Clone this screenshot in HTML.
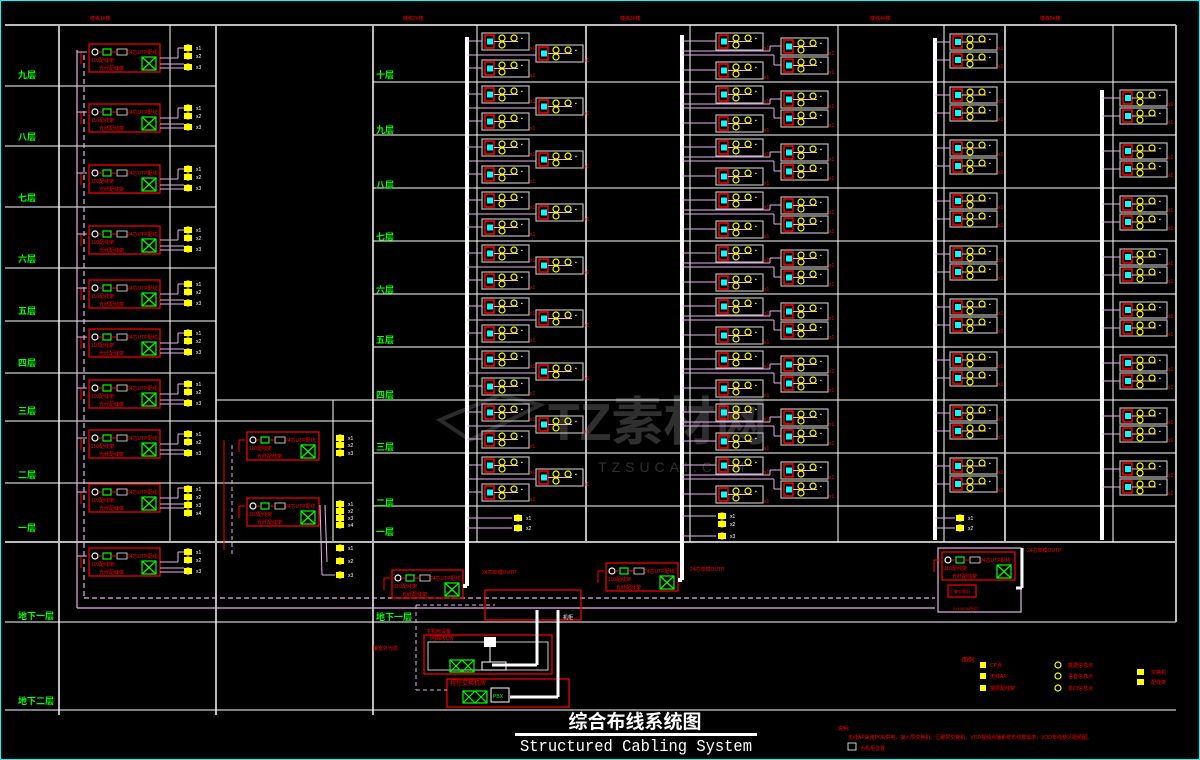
<!DOCTYPE html>
<html><head><meta charset="utf-8"><style>
html,body{margin:0;padding:0;background:#000;}
svg{display:block;}
text{font-family:"Liberation Sans","Noto Sans CJK SC",sans-serif;}
</style></head><body>
<svg id="s" width="1200" height="760" viewBox="0 0 1200 760" xmlns="http://www.w3.org/2000/svg">
<rect x="0.5" y="0.5" width="1199" height="759" fill="#000" stroke="#0ff" stroke-width="1"/>
<g id="wm" opacity="0.28">
<text x="548" y="440" font-size="52" font-weight="bold" fill="#aaa">TZ素材网</text>
<text x="598" y="472" font-size="14" fill="#aaa" letter-spacing="5">TZSUCAI.COM</text>
<path d="M440 420 L500 395 L540 405 L470 440 Z" fill="none" stroke="#999" stroke-width="4"/>
</g>
<g id="g"></g>
<text x="635" y="728" font-size="19" font-weight="bold" fill="#fff" text-anchor="middle" style="font-family:'Noto Sans CJK SC',sans-serif">综合布线系统图</text>
<rect x="515" y="733" width="242" height="3" fill="#fff"/>
<text x="636" y="751" font-size="17" fill="#fff" text-anchor="middle" style="font-family:'Liberation Mono',monospace" textLength="232" lengthAdjust="spacingAndGlyphs">Structured Cabling System</text>
</svg>
<script>
var g=document.getElementById('g'),h='';
function L(x1,y1,x2,y2,c,w,d){h+='<line x1="'+x1+'" y1="'+y1+'" x2="'+x2+'" y2="'+y2+'" stroke="'+c+'" stroke-width="'+(w||1)+'"'+(d?' stroke-dasharray="'+d+'"':'')+'/>';}
function R(x,y,w,hh,c,f,sw){h+='<rect x="'+x+'" y="'+y+'" width="'+w+'" height="'+hh+'" fill="'+(f||'none')+'" stroke="'+(c||'none')+'" stroke-width="'+(sw||1)+'"/>';}
function T(x,y,s,c,t,fs,bold){h+='<text x="'+x+'" y="'+y+'" font-size="'+(fs||5)+'" fill="'+c+'"'+(bold?' font-weight="bold"':'')+'>'+t+'</text>';}
function C(x,y,r,c,f){h+='<circle cx="'+x+'" cy="'+y+'" r="'+r+'" fill="'+(f||'none')+'" stroke="'+c+'" stroke-width="1.2"/>';}
var W='#fff',G='#bbb',P='#e8b0f0',Rd='#f00',Y='#ff0',Gn='#0f0';
L(5,25,1176,25,G,2);
[59,216,373].forEach(function(x){L(x,25,x,715,G,2)});
L(170,25,170,542,W);L(333,400,333,542,W);
[86,146,207,268,321,373].forEach(function(y){L(5,y,216,y,W)});
[421,483].forEach(function(y){L(5,y,373,y,W)});
L(5,542,1176,542,G,2);L(5,622,1176,622,W);L(5,710,1176,710,W);
L(1176,25,1176,622,G,2);
L(216,400,373,400,W);
var rows=[25,82,135,188,241,294,347,400,453,506];
rows.slice(1).forEach(function(y){L(373,y,1176,y,W)});
[477,690,838,944,1113].forEach(function(x){L(x,25,x,542,W)});
[586,1005].forEach(function(x){L(x,25,x,542,G,2)});
var lf=[['九层',78],['八层',140],['七层',201],['六层',262],['五层',314],['四层',366],['三层',414],['二层',478],['一层',531],['地下一层',619],['地下二层',704]];
lf.forEach(function(a){T(18,a[1],0,Gn,a[0],9,1)});
var rf=[['十层',78],['九层',133],['八层',188],['七层',240],['六层',293],['五层',343],['四层',398],['三层',450],['二层',506],['一层',535],['地下一层',620]];
rf.forEach(function(a){T(376,a[1],0,Gn,a[0],9,1)});
[[90,'楼栋1#楼'],[403,'楼栋2#楼'],[620,'楼栋3#楼'],[870,'楼栋4#楼'],[1040,'楼栋5#楼']].forEach(function(a){T(a[0],20,0,Rd,a[1],5)});
function unit(x,y,w){w=w||71;
 R(x,y,w,28,Rd,0,1.2);C(x+6,y+8,3,W);R(x+14,y+5,8,6,Gn,0,1.2);R(x+28,y+5,10,6,G,0,1);
 L(x+9,y+8,x+14,y+8,Rd);L(x+22,y+8,x+28,y+8,Rd);
 T(x+38,y+10,0,Rd,'24芯UTP配线',5);T(x+2,y+18,0,Rd,'110配线架',5);T(x+10,y+26,0,Rd,'光纤配线架',5);
 var bx=x+w-18;R(bx,y+13,14,13,Gn,0,1.2);L(bx,y+13,bx+14,y+26,Gn,1.2);L(bx,y+26,bx+14,y+13,Gn,1.2);
 L(x-2,y+8,x-8,y+8,Rd);L(x-8,y+8,x-8,y+20,Rd);
}
function icons(x,y,ys){ys.forEach(function(d,i){R(x-4,y+d-3,8,6,0,Y);C(x,y+d,3,Y);T(x+8,y+d+2,0,W,'x'+(i+1),5)});}
var lt=[44,104,165,226,280,329,380,430,484,548];
lt.forEach(function(y,i){unit(89,y);icons(188,y,i==8?[5,13,21,29]:[4,12,23]);
 L(160,y+14,178,y+14,P);L(178,y+4,184,y+4,P);L(178,y+14,178,y+4,P);L(160,y+20,184,y+20,P);L(160,y+24,184,y+24,P);
 L(77,y+8,87,y+8,P);});
unit(247,432,72);icons(340,432,[6,13,21]);unit(247,498,72);icons(340,497,[7,14,21,28]);
icons(340,548,[0,13,27]);
L(320,505,322,575,P);L(325,505,327,562,P);L(322,575,335,575,P);
L(77,50,77,608,P,1.2);L(84,55,84,598,P,1.2,'5,3');
L(77,608,935,608,P,1.2);L(84,598,935,598,P,1.2,'5,3');
L(224,440,224,550,Rd);L(232,445,232,555,P,1,'4,3');
function box(x,y,w,hh){hh=hh||17;w=w||47;R(x,y,w,hh,G,0,1.2);R(x+3,y+2,9,hh-4,Rd,0,1.5);R(x+5,y+hh/2-3,6,6,0,'#0ff');
 L(x+12,y+hh/2,x+36,y+hh/2,P);C(x+20,y+5,3,Y);C(x+32,y+5,3,Y);if(hh>15)C(x+20,y+12,3,Y);T(x+39,y+7,0,W,'▪',5);T(x+w+1,y+hh,0,Rd,'x1',5);}
function riser(x,y1,y2){L(x,y1,x,y2,W,4);}
riser(467,37,586);riser(682,35,580);riser(935,38,540);riser(1102,90,540);
for(var i=0;i<9;i++){var t=rows[i],y0=i==0?33:t+4;
 box(482,y0);box(536,y0+12);box(482,y0+27);
 L(467,y0+8,482,y0+8,P);L(467,y0+22,536,y0+22,P);L(467,y0+35,482,y0+35,P);
 box(716,y0);box(781,y0+5);box(781,y0+24);box(716,y0+29);
 L(682,y0+8,716,y0+8,P);L(682,y0+18,770,y0+18,P);L(770,y0+18,770,y0+13,P);L(770,y0+13,781,y0+13,P);
 L(682,y0+22,774,y0+22,P);L(774,y0+22,774,y0+32,P);L(774,y0+32,781,y0+32,P);L(682,y0+37,716,y0+37,P);
 box(950,y0+1,47,16);box(950,y0+19,47,16);L(935,y0+9,950,y0+9,P);L(935,y0+27,950,y0+27,P);
 if(i>0){box(1120,y0+4,47,16);box(1120,y0+22,47,16);L(1102,y0+12,1120,y0+12,P);L(1102,y0+30,1120,y0+30,P);}
}
icons(518,508,[10,20]);icons(722,508,[8,16,28]);icons(960,508,[10,20]);
L(467,518,512,518,P);L(467,528,512,528,P);L(682,516,716,516,P);L(682,536,716,536,P);L(935,518,955,518,P);L(935,528,955,528,P);
unit(392,570,71);unit(606,563,72);
R(938,548,83,64,P,0,1.2);unit(942,552,73);R(948,585,28,12,Rd,0,1.2);T(950,593,0,Rd,'汇聚交换机',4);
L(467,586,463,586,W,4);L(682,580,678,580,W,4);L(1016,588,1022,588,W,3);L(1022,588,1022,548,W,3);
T(482,574,0,Rd,'24芯单模OUTP',5);T(690,571,0,Rd,'24芯单模OUTP',5);T(1027,552,0,Rd,'24芯单模OUTP',5);T(953,610,0,Rd,'2×1000M光口',4);
R(485,590,96,30,Rd,0,1.2);T(563,619,0,W,'机柜',5);
R(424,635,128,39,Rd,0,1.2);R(447,679,122,28,Rd,0,1.2);
L(537,610,537,665,W,3);L(558,610,558,697,W,3);L(492,665,537,665,W,3);L(510,697,558,697,W,3);
R(428,642,120,28,W,0,0.8);
R(484,637,12,10,0,W);L(490,647,490,662,W);R(482,662,24,8,'#fff',0,1);
function bow(x,y){R(x,y,24,12,Gn,0,1.2);L(x,y,x+12,y+12,Gn,1.2);L(x,y+12,x+12,y,Gn,1.2);L(x+12,y,x+24,y+12,Gn,1.2);L(x+12,y+12,x+24,y,Gn,1.2);}
bow(450,660);bow(463,691);R(491,688,18,14,W,0,1);T(493,698,0,Gn,'PBX',5);
T(426,633,0,Rd,'主机房设备',5);T(430,640,0,Rd,'网络机房',6);T(450,685,0,Rd,'程控交换机房',6);T(373,650,0,Rd,'接室外光缆',5);
L(416,605,416,690,P,1,'4,3');L(416,605,495,605,P,1,'4,3');L(416,690,447,690,P,1,'4,3');
T(962,662,0,Rd,'图例:',6);
[[980,667,'CP点'],[980,678,'无线AP'],[980,690,'楼层配线架']].forEach(function(a){R(a[0],a[1]-5,6,6,0,Y);T(a[0]+10,a[1],0,Rd,a[2],5)});
[[1058,667,'数据信息点'],[1058,678,'语音信息点'],[1058,690,'单口信息点']].forEach(function(a){C(a[0],a[1]-2,3,Y);T(a[0]+10,a[1],0,Rd,a[2],5)});
[[1137,674,'交换机'],[1137,684,'配线架']].forEach(function(a){R(a[0],a[1]-5,7,6,0,Y);T(a[0]+14,a[1],0,Rd,a[2],5)});
T(838,730,0,Rd,'说明:',5);T(848,739,0,Rd,'无线AP采用POE供电，接入层交换机、汇聚层交换机、VOD视频点播系统布线按需求，VOD布线参见视频图。',5);
R(848,743,8,7,W,0,0.8);T(860,750,0,Rd,'为机柜位置',5);
g.innerHTML=h;
</script>
</body></html>
